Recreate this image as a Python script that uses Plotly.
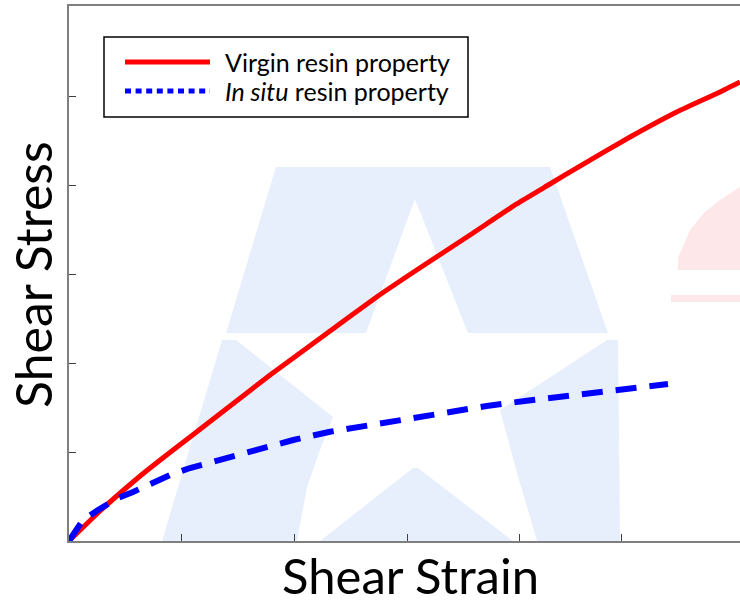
import plotly.graph_objects as go

# ---- data (arbitrary units) ----
virgin_strain = [0, 0.275, 0.568, 0.719, 1.074, 1.429, 1.784, 2.280, 2.730, 3.085,
                 3.558, 3.972, 4.268, 4.534, 4.978, 5.392, 5.777, 5.954]
virgin_stress = [0, 0.337, 0.663, 0.820, 1.169, 1.517, 1.865, 2.326, 2.742, 3.045,
                 3.438, 3.787, 4.011, 4.213, 4.539, 4.820, 5.045, 5.157]

insitu_strain = [0, 0.124, 0.257, 0.435, 0.568, 0.745, 0.896, 1.074, 1.402, 1.695,
                 1.990, 2.316, 2.671, 3.026, 3.351, 3.706, 4.061, 4.445, 4.860, 5.315]
insitu_stress = [0, 0.236, 0.348, 0.483, 0.551, 0.663, 0.742, 0.820, 0.933, 1.045,
                 1.135, 1.228, 1.303, 1.379, 1.453, 1.517, 1.576, 1.629, 1.689, 1.764]

x_ticks = [1, 2, 3, 4, 4.9]
y_ticks = [1, 2, 3, 4, 5]

series_names = ["Virgin resin property", "<i>In situ</i> resin property"]
x_title = "Shear Strain"
y_title = "Shear Stress"

W, H = 740, 604
L, R, T, B = 69, 0, 6, 63
PW, PH = W - L - R, H - T - B


def P(px, py):
    return ((px - L) / PW, (H - B - py) / PH)


def path(points):
    pts = [P(*p) for p in points]
    return "M " + " L ".join(f"{x:.4f},{y:.4f}" for x, y in pts) + " Z"


fig = go.Figure()
fig.add_trace(go.Scatter(x=virgin_strain, y=virgin_stress, mode="lines",
                         name=series_names[0], showlegend=False,
                         line=dict(color="#ff0000", width=5, shape="spline", smoothing=0.4)))
fig.add_trace(go.Scatter(x=insitu_strain, y=insitu_stress, mode="lines",
                         name=series_names[1], showlegend=False,
                         line=dict(color="#0000ff", width=6, dash="21px,13px")))

# faint background watermark
wm_blue = "#e7eefc"
wm_red = "#fde7e8"
shapes = []
for poly, col in [
    ([(276, 167), (550, 167), (608, 333), (468, 333), (415, 199), (366, 333), (226, 333)], wm_blue),
    ([(162, 541), (222, 340), (236, 340), (333, 417), (320, 450), (307, 487), (297, 541)], wm_blue),
    ([(320, 541), (413, 468), (418, 468), (513, 541)], wm_blue),
    ([(537, 541), (517, 473), (500, 410), (607, 340), (618, 340), (620, 541)], wm_blue),
    ([(678, 270), (678, 258), (690, 230), (705, 212), (720, 200), (740, 187), (740, 270)], wm_red),
    ([(671, 295), (740, 295), (740, 302), (671, 302)], wm_red),
]:
    shapes.append(dict(type="path", xref="paper", yref="paper", path=path(poly),
                       fillcolor=col, line=dict(width=0), layer="below"))

# legend drawn by hand
x0, y0 = P(104, 37)
x1, y1 = P(468, 117)
shapes.append(dict(type="rect", xref="paper", yref="paper", x0=x0, y0=y1, x1=x1, y1=y0,
                   line=dict(color="#000000", width=1.5), fillcolor="rgba(255,255,255,0)"))
lx0, ly0 = P(125, 62)
lx1, _ = P(210, 62)
shapes.append(dict(type="line", xref="paper", yref="paper", x0=lx0, y0=ly0, x1=lx1, y1=ly0,
                   line=dict(color="#ff0000", width=5)))
_, ly1 = P(125, 91)
shapes.append(dict(type="line", xref="paper", yref="paper", x0=lx0, y0=ly1, x1=lx1, y1=ly1,
                   line=dict(color="#0000ff", width=5, dash="6px,4.6px")))

tx, _ = P(223, 62)
annotations = [
    dict(xref="paper", yref="paper", x=tx, y=ly0, text=series_names[0], showarrow=False,
         xanchor="left", yanchor="middle", font=dict(size=25, color="#000000")),
    dict(xref="paper", yref="paper", x=tx, y=ly1, text=series_names[1], showarrow=False,
         xanchor="left", yanchor="middle", font=dict(size=25, color="#000000")),
    dict(xref="paper", yref="paper", x=P(410, 0)[0], y=P(0, 575)[1], text=x_title,
         showarrow=False, xanchor="center", yanchor="middle",
         font=dict(size=49, color="#000000")),
    dict(xref="paper", yref="paper", x=P(33, 0)[0], y=P(0, 275)[1], text=y_title,
         showarrow=False, xanchor="center", yanchor="middle", textangle=-90,
         font=dict(size=50, color="#000000")),
]

fig.update_layout(
    width=W, height=H,
    margin=dict(l=L, r=R, t=T, b=B, autoexpand=False),
    paper_bgcolor="white", plot_bgcolor="white",
    font=dict(family="Lato, 'Open Sans', sans-serif", color="#000000"),
    shapes=shapes, annotations=annotations, showlegend=False,
)
fig.update_xaxes(range=[0, PW / 112.7], showgrid=False, zeroline=False,
                 showline=True, linecolor="#7f7f7f", linewidth=2, mirror=True,
                 ticks="inside", ticklen=7, tickwidth=1, tickcolor="#404040",
                 tickvals=x_ticks, showticklabels=False)
fig.update_yaxes(range=[0, PH / 89.0], showgrid=False, zeroline=False,
                 showline=True, linecolor="#7f7f7f", linewidth=2, mirror=False,
                 ticks="inside", ticklen=7, tickwidth=1, tickcolor="#404040",
                 tickvals=y_ticks, showticklabels=False)

fig.write_html("out.html", config={"displayModeBar": False},
               post_script="document.body.style.margin='0';")
